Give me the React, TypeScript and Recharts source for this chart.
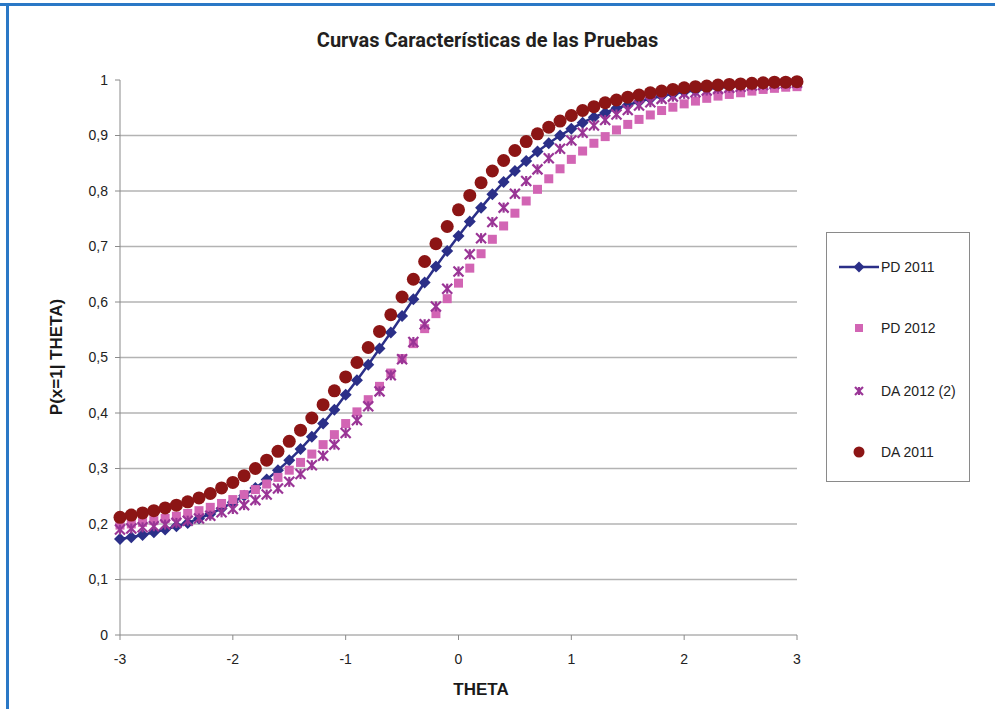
import React from 'react';
import { LineChart, Line, XAxis, YAxis, ReferenceLine } from 'recharts';

const theta = [
  -3, -2.9, -2.8, -2.7, -2.6, -2.5, -2.4, -2.3, -2.2, -2.1,
  -2, -1.9, -1.8, -1.7, -1.6, -1.5, -1.4, -1.3, -1.2, -1.1,
  -1, -0.9, -0.8, -0.7, -0.6, -0.5, -0.4, -0.3, -0.2, -0.1,
  0, 0.1, 0.2, 0.3, 0.4, 0.5, 0.6, 0.7, 0.8, 0.9,
  1, 1.1, 1.2, 1.3, 1.4, 1.5, 1.6, 1.7, 1.8, 1.9,
  2, 2.1, 2.2, 2.3, 2.4, 2.5, 2.6, 2.7, 2.8, 2.9, 3,
];

const pd2011 = [
  0.173, 0.176, 0.18, 0.185, 0.19, 0.196, 0.202, 0.21, 0.218, 0.228,
  0.239, 0.251, 0.265, 0.28, 0.297, 0.315, 0.335, 0.357, 0.381, 0.406,
  0.433, 0.459, 0.487, 0.516, 0.545, 0.575, 0.605, 0.635, 0.664, 0.692,
  0.719, 0.745, 0.77, 0.794, 0.816, 0.836, 0.854, 0.871, 0.886, 0.9,
  0.912, 0.923, 0.933, 0.941, 0.949, 0.955, 0.961, 0.966, 0.971, 0.975,
  0.979, 0.981, 0.984, 0.986, 0.988, 0.989, 0.991, 0.992, 0.993, 0.994, 0.995,
];

const pd2012 = [
  0.198, 0.2, 0.203, 0.206, 0.21, 0.214, 0.219, 0.224, 0.23, 0.237,
  0.244, 0.253, 0.262, 0.272, 0.284, 0.297, 0.311, 0.326, 0.343, 0.361,
  0.381, 0.402, 0.424, 0.448, 0.472, 0.498, 0.525, 0.552, 0.579, 0.606,
  0.634, 0.661, 0.687, 0.713, 0.737, 0.76, 0.782, 0.803, 0.822, 0.84,
  0.857, 0.872, 0.886, 0.898, 0.91, 0.92, 0.929, 0.937, 0.945, 0.951,
  0.957, 0.962, 0.967, 0.971, 0.974, 0.977, 0.98, 0.983, 0.985, 0.987, 0.988,
];

const da2012 = [
  0.19, 0.192, 0.194, 0.196, 0.199, 0.202, 0.206, 0.21, 0.215, 0.221,
  0.227, 0.234, 0.243, 0.253, 0.264, 0.276, 0.29, 0.306, 0.323, 0.343,
  0.364, 0.387, 0.412, 0.439, 0.468, 0.497, 0.528, 0.56, 0.592, 0.624,
  0.655, 0.686, 0.715, 0.744, 0.77, 0.795, 0.818, 0.839, 0.859, 0.876,
  0.891, 0.905, 0.918, 0.928, 0.938, 0.946, 0.954, 0.96, 0.966, 0.97,
  0.975, 0.978, 0.981, 0.984, 0.986, 0.988, 0.99, 0.991, 0.993, 0.994, 0.995,
];

const da2011 = [
  0.212, 0.216, 0.22, 0.224, 0.229, 0.234, 0.24, 0.247, 0.255, 0.265,
  0.275, 0.287, 0.3, 0.315, 0.331, 0.349, 0.369, 0.391, 0.415, 0.44,
  0.465, 0.491, 0.518, 0.547, 0.577, 0.609, 0.641, 0.673, 0.705, 0.736,
  0.766, 0.792, 0.815, 0.836, 0.855, 0.873, 0.889, 0.903, 0.915, 0.926,
  0.936, 0.945, 0.952, 0.959, 0.964, 0.969, 0.973, 0.977, 0.98, 0.983,
  0.986, 0.988, 0.989, 0.991, 0.992, 0.993, 0.994, 0.995, 0.996, 0.996, 0.997,
];

const xTicks = [-3, -2, -1, 0, 1, 2, 3];
const yTicks = [0, 0.1, 0.2, 0.3, 0.4, 0.5, 0.6, 0.7, 0.8, 0.9, 1];
const gridValues = [0.1, 0.2, 0.3, 0.4, 0.5, 0.6, 0.7, 0.8, 0.9];

const seriesNames = ['PD 2011', 'PD 2012', 'DA 2012 (2)', 'DA 2011'];

const data = theta.map((t, i) => ({
  theta: t,
  pd2011: pd2011[i],
  pd2012: pd2012[i],
  da2012: da2012[i],
  da2011: da2011[i],
}));

const NAVY = '#2b2f88';
const PINK = '#d265b4';
const PURPLE = '#9a3596';
const DARKRED = '#8c1515';

const narrow = "'Liberation Sans Narrow', 'Arial Narrow', 'Liberation Sans', Arial, sans-serif";

const Diamond = ({ cx, cy, s = 6 }: { cx: number; cy: number; s?: number }) => (
  <path d={`M${cx},${cy - s}L${cx + s},${cy}L${cx},${cy + s}L${cx - s},${cy}Z`} fill={NAVY} />
);
const Square = ({ cx, cy, s = 4.5 }: { cx: number; cy: number; s?: number }) => (
  <rect x={cx - s} y={cy - s} width={s * 2} height={s * 2} fill={PINK} />
);
const Star = ({ cx, cy, s = 5 }: { cx: number; cy: number; s?: number }) => (
  <g stroke={PURPLE} strokeWidth={2.2}>
    <line x1={cx - s} y1={cy - s} x2={cx + s} y2={cy + s} />
    <line x1={cx - s} y1={cy + s} x2={cx + s} y2={cy - s} />
    <line x1={cx} y1={cy - s} x2={cx} y2={cy + s} />
  </g>
);
const Dot = ({ cx, cy, r = 6.5 }: { cx: number; cy: number; r?: number }) => (
  <circle cx={cx} cy={cy} r={r} fill={DARKRED} />
);

const fmt = (v: number) => String(Math.round(v * 10) / 10).replace('.', ',');

export default function App() {
  return (
    <div style={{ position: 'absolute', left: 0, top: 0, width: 995, height: 709, background: '#fff', overflow: 'hidden' }}>
      <div style={{ position: 'absolute', left: 0, top: 3, width: 995, height: 3, background: '#2a78c6' }} />
      <div style={{ position: 'absolute', left: 6, top: 3, width: 3, height: 706, background: '#2a78c6' }} />

      <div style={{ position: 'absolute', left: 0, width: 975, top: 28, textAlign: 'center', fontFamily: 'Roboto, sans-serif', fontWeight: 700, fontSize: 20, color: '#231f20' }}>
        Curvas Características de las Pruebas
      </div>

      <LineChart width={995} height={709} data={data} margin={{ top: 80, right: 198, bottom: 44, left: 0 }} style={{ position: 'absolute', left: 0, top: 0 }}>
        {gridValues.map((g) => (
          <ReferenceLine key={g} y={g} stroke="#b3b3b3" strokeWidth={1.3} ifOverflow="visible" />
        ))}
        <XAxis
          dataKey="theta"
          type="number"
          domain={[-3, 3]}
          ticks={xTicks}
          height={30}
          stroke="#8a8a8a"
          tickSize={5}
          tick={{ fill: '#222', fontSize: 14, fontFamily: narrow }}
          tickMargin={14}
        />
        <YAxis
          type="number"
          domain={[0, 1]}
          ticks={yTicks}
          width={120}
          stroke="#8a8a8a"
          tickSize={5}
          tickMargin={7}
          tickFormatter={fmt}
          tick={{ fill: '#222', fontSize: 14, fontFamily: narrow }}
        />
        <Line
          dataKey="pd2011"
          name={seriesNames[0]}
          stroke={NAVY}
          strokeWidth={2.5}
          isAnimationActive={false}
          dot={(p: any) => <Diamond key={`a${p.index}`} cx={p.cx} cy={p.cy} />}
          activeDot={false}
        />
        <Line
          dataKey="pd2012"
          name={seriesNames[1]}
          stroke="none"
          isAnimationActive={false}
          dot={(p: any) => <Square key={`b${p.index}`} cx={p.cx} cy={p.cy} />}
          activeDot={false}
        />
        <Line
          dataKey="da2012"
          name={seriesNames[2]}
          stroke="none"
          isAnimationActive={false}
          dot={(p: any) => <Star key={`c${p.index}`} cx={p.cx} cy={p.cy} />}
          activeDot={false}
        />
        <Line
          dataKey="da2011"
          name={seriesNames[3]}
          stroke="none"
          isAnimationActive={false}
          dot={(p: any) => <Dot key={`d${p.index}`} cx={p.cx} cy={p.cy} />}
          activeDot={false}
        />
      </LineChart>

      <div style={{ position: 'absolute', left: 57, top: 357, transform: 'translate(-50%, -50%) rotate(-90deg)', whiteSpace: 'nowrap', fontFamily: narrow, fontWeight: 700, fontSize: 17, color: '#1a1a1a' }}>
        P(x=1| THETA)
      </div>
      <div style={{ position: 'absolute', left: 481, top: 690, transform: 'translate(-50%, -50%)', fontFamily: narrow, fontWeight: 700, fontSize: 17, color: '#1a1a1a' }}>
        THETA
      </div>

      <div style={{ position: 'absolute', left: 826, top: 232, width: 142, height: 248, border: '1px solid #8a8a8a', background: '#fff' }}>
        <svg width={142} height={248} style={{ position: 'absolute', left: 0, top: 0 }}>
          <line x1={12} x2={52} y1={34} y2={34} stroke={NAVY} strokeWidth={2.5} />
          <Diamond cx={32} cy={34} s={5.5} />
          <Square cx={32} cy={95} s={4} />
          <Star cx={32} cy={158} s={4} />
          <Dot cx={32} cy={219} r={5.5} />
          {seriesNames.map((n, i) => (
            <text key={n} x={54} y={[34, 95, 158, 219][i] + 5} fontFamily={narrow} fontSize={14} fill="#222">
              {n}
            </text>
          ))}
        </svg>
      </div>
    </div>
  );
}
